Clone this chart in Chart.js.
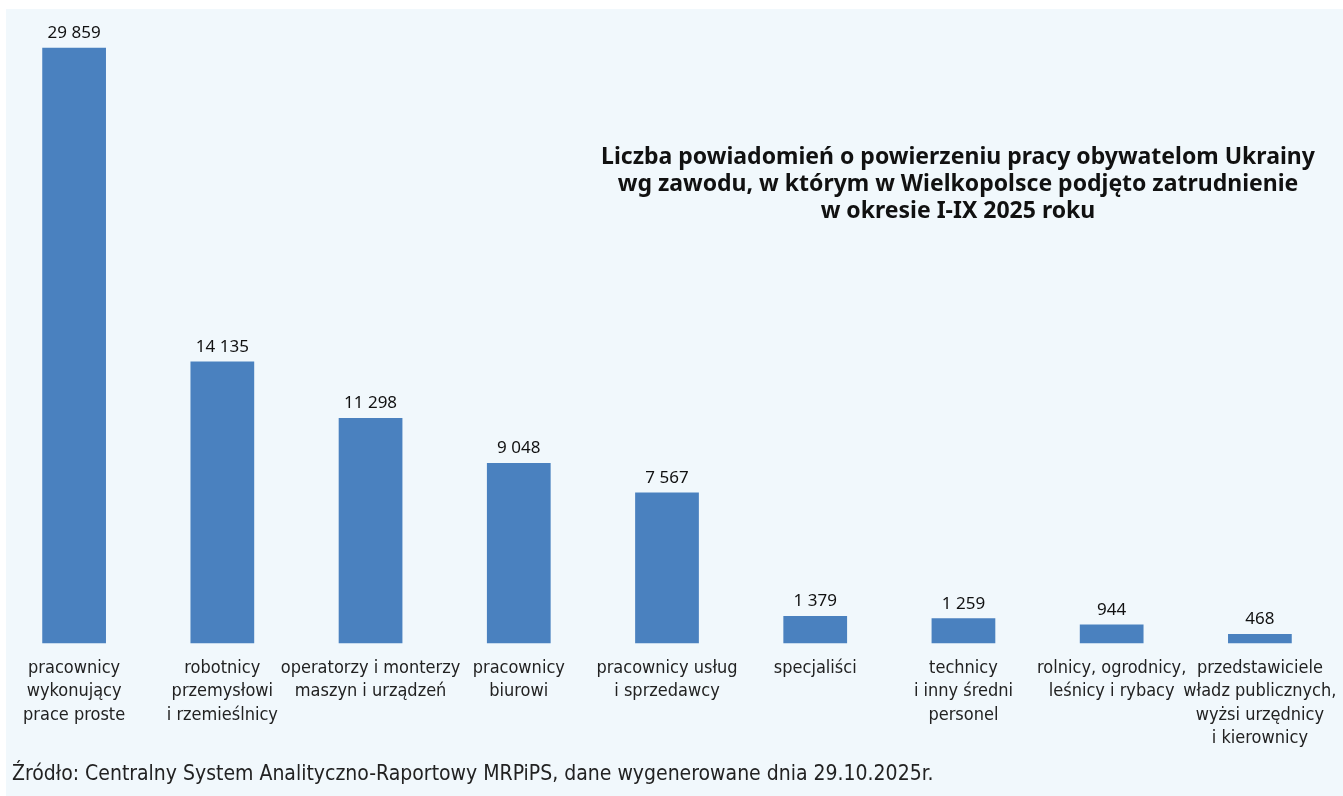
<!DOCTYPE html>
<html>
<head>
<meta charset="utf-8">
<script src="https://cdn.jsdelivr.net/npm/chart.js@4/dist/chart.umd.min.js"></script>
<style>
  html, body { margin: 0; padding: 0; background: #fff; }
  #wrap { width: 1343px; height: 796px; position: relative; }
</style>
</head>
<body>
<div id="wrap"><canvas id="chart"></canvas></div>
<script>
// zawody (kategorie) i liczba powiadomien
const occupations = [
  ['pracownicy', 'wykonujący', 'prace proste'],
  ['robotnicy', 'przemysłowi', 'i rzemieślnicy'],
  ['operatorzy i monterzy', 'maszyn i urządzeń'],
  ['pracownicy', 'biurowi'],
  ['pracownicy usług', 'i sprzedawcy'],
  ['specjaliści'],
  ['technicy', 'i inny średni', 'personel'],
  ['rolnicy, ogrodnicy,', 'leśnicy i rybacy'],
  ['przedstawiciele', 'władz publicznych,', 'wyżsi urzędnicy', 'i kierownicy']
]
const notifications = [29859, 14135, 11298, 9048, 7567, 1379, 1259, 944, 468]

const titleLines = [
  'Liczba powiadomień o powierzeniu pracy obywatelom Ukrainy',
  'wg zawodu, w którym w Wielkopolsce podjęto zatrudnienie',
  'w okresie I-IX 2025 roku'
]
const sourceText = 'Źródło: Centralny System Analityczno-Raportowy MRPiPS, dane wygenerowane dnia 29.10.2025r.'

const barColor = '#4A81BF'
const panelColor = '#F1F8FC'

// formatuje liczby ze spacja jako separatorem tysiecy
function fmt(v) {
  return String(v).replace(/\B(?=(\d{3})+(?!\d))/g, ' ')
}

// tlo panelu
const panelBg = {
  id: 'panelBg',
  beforeDraw(chart) {
    const c = chart.ctx
    c.save()
    c.fillStyle = panelColor
    c.fillRect(6, 9, chart.width - 6, chart.height - 9)
    c.restore()
  }
}

// etykiety wartosci, tytul i zrodlo
const extras = {
  id: 'extras',
  afterDraw(chart) {
    const c = chart.ctx
    c.save()
    const meta = chart.getDatasetMeta(0)
    c.fillStyle = '#111'
    c.font = '17px "Noto Sans"'
    c.textAlign = 'center'
    c.textBaseline = 'bottom'
    meta.data.forEach((bar, i) => {
      c.fillText(fmt(notifications[i]), bar.x, bar.y - 6)
    })

    c.font = 'bold 23px "Noto Sans"'
    c.textBaseline = 'middle'
    titleLines.forEach((line, i) => {
      c.fillText(line, 958, 157 + i * 27)
    })

    c.font = '21px "Liberation Sans Narrow", "DejaVu Sans Condensed"'
    c.fillStyle = '#222'
    c.textAlign = 'left'
    c.fillText(sourceText, 12, 775)
    c.restore()
  }
}

new Chart(document.getElementById('chart'), {
  type: 'bar',
  data: {
    labels: occupations,
    datasets: [{
      data: notifications,
      backgroundColor: barColor,
      categoryPercentage: 1,
      barPercentage: 0.43
    }]
  },
  options: {
    responsive: true,
    maintainAspectRatio: false,
    animation: false,
    layout: { padding: { left: 0, right: 9, top: 45, bottom: 41 } },
    plugins: {
      legend: { display: false },
      tooltip: { enabled: false }
    },
    scales: {
      x: {
        grid: { display: false },
        border: { display: false },
        ticks: {
          color: '#222',
          autoSkip: false,
          maxRotation: 0,
          padding: 5,
          font: { family: '"Liberation Sans Narrow", "DejaVu Sans Condensed"', size: 18, lineHeight: 1.3 }
        }
      },
      y: {
        display: false,
        min: 0,
        max: 30000
      }
    }
  },
  plugins: [panelBg, extras]
})
</script>
</body>
</html>
